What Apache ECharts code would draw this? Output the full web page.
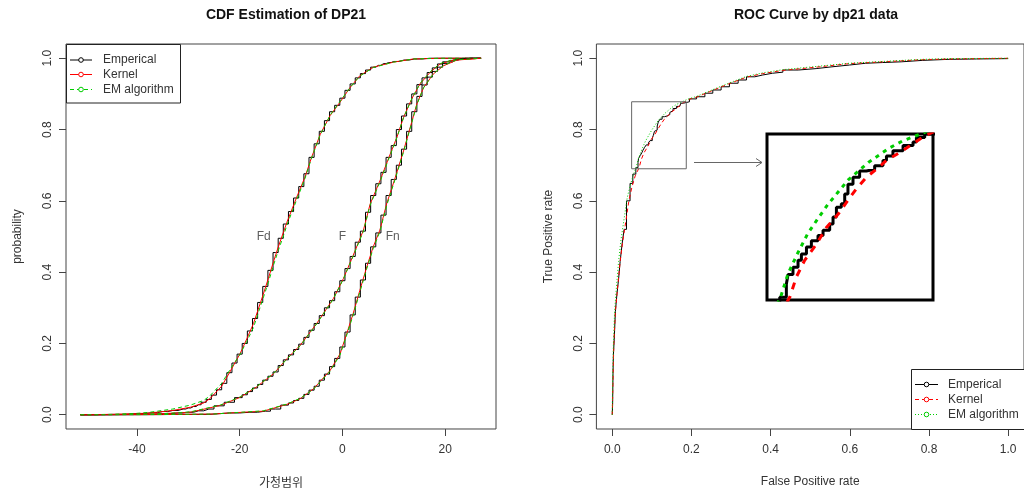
<!DOCTYPE html>
<html>
<head>
<meta charset="utf-8">
<script src="https://cdn.jsdelivr.net/npm/echarts@6/dist/echarts.min.js"></script>
<style>
html,body{margin:0;padding:0;background:#fff;}
#c{width:1024px;height:493px;}
</style>
</head>
<body>
<div id="c"></div>
<script>
// ---------- DATA : left panel (CDF estimation) ----------
const xTicksCdf = [-40, -20, 0, 20];
const yTicks = [0, 0.2, 0.4, 0.6, 0.8, 1.0];

// Fd curve (smooth estimates)
const fdX      = [-51, -45, -40, -37.5, -33, -29.6, -27, -25.8, -23.5, -21.9, -19.9, -18.6, -17.3, -16.4, -15.4, -14.4, -13.4, -12.5, -11.4, -10.8, -8.9, -7.3, -6.0, -4.3, -2.4, -0.45, 1.5, 3.4, 6.0, 9.9, 13.8, 19, 27];
const fdKernel = [0, 0.001, 0.003, 0.005, 0.012, 0.021, 0.033, 0.045, 0.08, 0.12, 0.172, 0.213, 0.256, 0.295, 0.338, 0.383, 0.43, 0.47, 0.515, 0.54, 0.61, 0.666, 0.722, 0.787, 0.839, 0.877, 0.918, 0.951, 0.975, 0.989, 0.998, 1.0, 1.0];
const fdEM     = [0, 0.001, 0.004, 0.007, 0.016, 0.027, 0.04, 0.053, 0.088, 0.126, 0.17, 0.206, 0.245, 0.285, 0.328, 0.372, 0.42, 0.46, 0.505, 0.532, 0.603, 0.662, 0.72, 0.786, 0.84, 0.879, 0.918, 0.95, 0.974, 0.989, 0.998, 1.0, 1.0];
// Fd empirical (jump location, ECDF value)
const fdEmpX = [-51, -45, -40, -37, -35, -33, -31, -30, -29, -28, -27, -26, -25, -24, -23, -22, -21, -20, -19, -18, -17, -16, -15, -14, -13, -12, -11, -10, -9, -8, -7, -6, -5, -4, -3, -2, -1, 0, 1, 2, 3, 4, 5, 6, 7, 8, 9, 10, 12, 14, 17, 27];
const fdEmpY = [0, 0.001, 0.003, 0.006, 0.009, 0.012, 0.016, 0.019, 0.023, 0.028, 0.035, 0.043, 0.055, 0.07, 0.088, 0.118, 0.145, 0.17, 0.2, 0.235, 0.27, 0.315, 0.36, 0.405, 0.455, 0.495, 0.535, 0.57, 0.608, 0.64, 0.676, 0.722, 0.76, 0.795, 0.825, 0.85, 0.868, 0.888, 0.91, 0.928, 0.945, 0.957, 0.967, 0.975, 0.98, 0.985, 0.988, 0.991, 0.995, 0.998, 1.0, 1.0];

// F curve
const fX      = [-51, -40, -35, -29.6, -23.8, -19.9, -16.7, -13.4, -10.8, -8.2, -5.0, -1.75, 0.2, 2.1, 4.1, 5.4, 7.3, 9.3, 10.6, 11.9, 13.5, 15.1, 17.1, 19.0, 21.6, 27];
const fKernel = [0, 0.001, 0.003, 0.007, 0.026, 0.049, 0.078, 0.115, 0.157, 0.195, 0.256, 0.326, 0.382, 0.447, 0.518, 0.591, 0.656, 0.731, 0.778, 0.834, 0.886, 0.928, 0.961, 0.984, 0.995, 1.0];
const fEM     = [0, 0.001, 0.003, 0.008, 0.027, 0.05, 0.079, 0.116, 0.156, 0.194, 0.255, 0.325, 0.381, 0.445, 0.515, 0.588, 0.653, 0.728, 0.777, 0.833, 0.886, 0.929, 0.962, 0.985, 0.996, 1.0];
const fEmpX = [-51, -40, -35, -32, -30, -28, -26, -24, -22, -20, -19, -18, -17, -16, -15, -14, -13, -12, -11, -10, -9, -8, -7, -6, -5, -4, -3, -2, -1, 0, 1, 2, 3, 4, 5, 6, 7, 8, 9, 10, 11, 12, 13, 14, 15, 16, 17, 18, 19, 20, 21, 22, 24, 27];
const fEmpY = [0, 0.001, 0.003, 0.005, 0.007, 0.011, 0.016, 0.025, 0.035, 0.048, 0.056, 0.065, 0.075, 0.085, 0.097, 0.108, 0.12, 0.138, 0.154, 0.168, 0.183, 0.198, 0.217, 0.237, 0.256, 0.278, 0.3, 0.32, 0.345, 0.376, 0.41, 0.444, 0.484, 0.515, 0.568, 0.615, 0.648, 0.68, 0.722, 0.755, 0.8, 0.838, 0.872, 0.9, 0.926, 0.945, 0.96, 0.973, 0.984, 0.99, 0.994, 0.997, 1.0, 1.0];

// Fn curve
const fnX      = [-51, -35, -25, -21.9, -15.4, -10.8, -8.2, -5.6, -2.4, -0.45, 0.86, 2.1, 3.4, 4.75, 6.0, 7.3, 8.6, 10.3, 11.9, 13.2, 14.5, 15.8, 17.7, 19.7, 22.3, 27];
const fnKernel = [0, 0.0005, 0.002, 0.005, 0.01, 0.029, 0.045, 0.073, 0.124, 0.171, 0.228, 0.284, 0.349, 0.415, 0.471, 0.518, 0.591, 0.666, 0.74, 0.806, 0.872, 0.918, 0.956, 0.979, 0.995, 1.0];
const fnEM     = [0, 0.0005, 0.002, 0.005, 0.011, 0.03, 0.046, 0.072, 0.122, 0.168, 0.224, 0.28, 0.344, 0.41, 0.466, 0.514, 0.586, 0.662, 0.737, 0.804, 0.87, 0.917, 0.956, 0.98, 0.996, 1.0];
const fnEmpX = [-51, -30, -22, -18, -15, -13, -11, -10, -9, -8, -7, -6, -5, -4, -3, -2, -1, 0, 1, 2, 3, 4, 5, 6, 7, 8, 9, 10, 11, 12, 13, 14, 15, 16, 17, 18, 19, 20, 21, 22, 23, 25, 27];
const fnEmpY = [0, 0.001, 0.005, 0.007, 0.01, 0.016, 0.027, 0.033, 0.04, 0.046, 0.057, 0.069, 0.08, 0.097, 0.114, 0.135, 0.158, 0.19, 0.232, 0.28, 0.33, 0.378, 0.425, 0.471, 0.51, 0.56, 0.615, 0.66, 0.7, 0.745, 0.795, 0.85, 0.893, 0.925, 0.947, 0.963, 0.975, 0.985, 0.99, 0.995, 0.998, 1.0, 1.0];

// curve name labels
const curveNames = ['Fd', 'F', 'Fn'];
const curveNameX = [-15.3, 0, 9.8];
const curveNameY = [0.5, 0.5, 0.5];

// ---------- DATA : right panel (ROC) ----------
const xTicksRoc = [0, 0.2, 0.4, 0.6, 0.8, 1.0];
const rocEmpFpr = [0, 0.001, 0.002, 0.003, 0.005, 0.008, 0.012, 0.016, 0.02, 0.025, 0.03, 0.036, 0.045, 0.052, 0.0596, 0.0651, 0.0665, 0.0706, 0.0748, 0.0776, 0.0818, 0.0859, 0.0914, 0.0956, 0.1011, 0.1039, 0.1067, 0.1108, 0.1136, 0.1163, 0.1205, 0.126, 0.1316, 0.1385, 0.1454, 0.1483, 0.1537, 0.1621, 0.1704, 0.1732, 0.1801, 0.195, 0.213, 0.234, 0.254, 0.275, 0.296, 0.318, 0.339, 0.36, 0.38, 0.405, 0.431, 0.47, 0.515, 0.555, 0.599, 0.64, 0.683, 0.73, 0.783, 0.851, 0.92, 1.0];
const rocEmpTpr = [0, 0.03, 0.12, 0.17, 0.21, 0.29, 0.34, 0.38, 0.43, 0.48, 0.52, 0.6, 0.649, 0.675, 0.693, 0.708, 0.719, 0.727, 0.735, 0.742, 0.75, 0.757, 0.763, 0.769, 0.776, 0.784, 0.795, 0.799, 0.81, 0.821, 0.829, 0.836, 0.838, 0.842, 0.848, 0.853, 0.859, 0.865, 0.869, 0.874, 0.878, 0.886, 0.892, 0.902, 0.911, 0.92, 0.93, 0.939, 0.948, 0.953, 0.958, 0.961, 0.967, 0.971, 0.976, 0.981, 0.986, 0.988, 0.99, 0.994, 0.997, 0.998, 0.999, 1.0];
const rocKerFpr = [0, 0.002, 0.004, 0.008, 0.013, 0.02, 0.027, 0.034, 0.042, 0.05, 0.058, 0.0679, 0.0734, 0.0803, 0.09, 0.0984, 0.108, 0.1163, 0.1233, 0.1316, 0.1399, 0.1483, 0.1593, 0.1704, 0.1801, 0.195, 0.213, 0.254, 0.296, 0.339, 0.38, 0.431, 0.515, 0.599, 0.683, 0.783, 0.851, 1.0];
const rocKerTpr = [0, 0.1, 0.2, 0.29, 0.35, 0.43, 0.49, 0.54, 0.6, 0.64, 0.67, 0.693, 0.716, 0.735, 0.753, 0.772, 0.787, 0.803, 0.816, 0.829, 0.838, 0.848, 0.857, 0.867, 0.876, 0.885, 0.891, 0.91, 0.929, 0.947, 0.957, 0.966, 0.975, 0.985, 0.99, 0.996, 0.998, 1.0];
const rocEmFpr  = [0, 0.001, 0.003, 0.006, 0.01, 0.016, 0.022, 0.03, 0.038, 0.047, 0.054, 0.0605, 0.0665, 0.0745, 0.0828, 0.0912, 0.0995, 0.108, 0.1165, 0.125, 0.1335, 0.142, 0.1505, 0.1615, 0.1728, 0.19, 0.213, 0.254, 0.296, 0.339, 0.38, 0.431, 0.515, 0.599, 0.683, 0.783, 0.851, 1.0];
const rocEmTpr  = [0, 0.1, 0.2, 0.29, 0.35, 0.43, 0.49, 0.55, 0.61, 0.65, 0.675, 0.694, 0.72, 0.743, 0.765, 0.782, 0.798, 0.812, 0.826, 0.836, 0.846, 0.854, 0.862, 0.87, 0.876, 0.885, 0.893, 0.912, 0.931, 0.949, 0.959, 0.968, 0.977, 0.986, 0.991, 0.997, 0.999, 1.0];
// zoom window shown in the inset
const zoomX = [0.049, 0.187];
const zoomY = [0.69, 0.878];

const legendNames = ['Emperical', 'Kernel', 'EM algorithm'];

// ---------- helpers ----------
const zip = (a, b) => a.map((v, i) => [v, b[i]]);
const FONT = '"Liberation Sans", Arial, sans-serif';
const BLACK = '#000000', RED = '#ff0000', GREEN = '#00cd00';
const TXT = '#333333';

function mkX(gi, min, max, ticks, nameTxt, fmt) {
  return {
    type: 'value', gridIndex: gi, min: min, max: max,
    splitLine: {show: false},
    axisLine: {show: false, onZero: false},
    axisTick: {show: true, length: 7, inside: false, customValues: ticks, lineStyle: {color: '#444'}},
    axisLabel: {customValues: ticks, color: TXT, fontSize: 12, fontFamily: FONT, margin: 15, formatter: fmt},
    name: nameTxt, nameLocation: 'middle', nameGap: 47,
    nameTextStyle: {color: TXT, fontSize: 12, fontFamily: gi === 0 ? '"Noto Sans CJK KR", ' + FONT : FONT}
  };
}
function mkY(gi, nameTxt) {
  return {
    type: 'value', gridIndex: gi, min: -0.04, max: 1.04,
    splitLine: {show: false},
    axisLine: {show: false, onZero: false},
    axisTick: {show: true, length: 7, customValues: yTicks, lineStyle: {color: '#444'}},
    axisLabel: {customValues: yTicks, rotate: 90, color: TXT, fontSize: 12, fontFamily: FONT, margin: 12,
      formatter: v => v.toFixed(1)},
    name: nameTxt, nameLocation: 'middle', nameGap: 42, nameRotate: 90,
    nameTextStyle: {color: TXT, fontSize: 12, fontFamily: FONT}
  };
}

function ln(name, data, xi, color, type, width, step, z) {
  return {
    type: 'line', name: name, xAxisIndex: xi, yAxisIndex: xi, data: data,
    showSymbol: false, symbol: 'none', smooth: false, step: step || false,
    lineStyle: {color: color, width: width || 1, type: type || 'solid'},
    itemStyle: {color: color}, silent: true, z: z || 3
  };
}

const series = [];
// left panel
[[fdX, fdKernel, fdEM, fdEmpX, fdEmpY], [fX, fKernel, fEM, fEmpX, fEmpY], [fnX, fnKernel, fnEM, fnEmpX, fnEmpY]].forEach(g => {
  series.push(ln('Emperical', zip(g[3], g[4]), 0, BLACK, 'solid', 1, 'middle'));
  series.push(ln('Kernel', zip(g[0], g[1]), 0, RED, 'solid', 1));
  series.push(ln('EM algorithm', zip(g[0], g[2]), 0, GREEN, [4, 3], 1));
});
series.push({
  type: 'scatter', xAxisIndex: 0, yAxisIndex: 0, symbolSize: 1, itemStyle: {color: 'rgba(0,0,0,0)'},
  data: curveNames.map((n, i) => ({name: n, value: [curveNameX[i], curveNameY[i]]})),
  label: {show: true, position: 'inside', formatter: p => p.name, color: TXT, fontSize: 12, fontFamily: FONT},
  silent: true, z: 5
});
// right panel main
series.push(ln('Emperical', zip(rocEmpFpr, rocEmpTpr), 1, BLACK, 'solid', 1, 'end'));
series.push(ln('Kernel', zip(rocKerFpr, rocKerTpr), 1, RED, [4, 3], 1));
series.push(ln('EM algorithm', zip(rocEmFpr, rocEmTpr), 1, GREEN, [1, 2], 1));
// zoom rectangle
series.push(ln('zoom', [[zoomX[0], zoomY[0]], [zoomX[1], zoomY[0]], [zoomX[1], zoomY[1]], [zoomX[0], zoomY[1]], [zoomX[0], zoomY[0]]], 1, '#666666', 'solid', 1));
// inset
series.push(ln('Emperical', zip(rocEmpFpr, rocEmpTpr), 2, BLACK, 'solid', 3, 'end', 10));
series.push(ln('Kernel', zip(rocKerFpr, rocKerTpr), 2, RED, [7, 7], 3, false, 10));
series.push(ln('EM algorithm', zip(rocEmFpr, rocEmTpr), 2, GREEN, [4, 5], 3, false, 10));

// ---------- legends (R style boxes) ----------
function legendBox(x, y, w, h, rows, styles) {
  const els = [{type: 'rect', shape: {x: x + 0.5, y: y + 0.5, width: w, height: h}, style: {fill: '#fff', stroke: '#222', lineWidth: 1}, z: 100}];
  rows.forEach((r, i) => {
    const st = styles[i];
    els.push({type: 'line', shape: {x1: r.lx1, y1: r.y, x2: r.lx2, y2: r.y}, style: {stroke: st.c, lineWidth: 1, lineDash: st.d}, z: 101});
    els.push({type: 'circle', shape: {cx: r.cx, cy: r.y, r: 2.3}, style: {fill: '#fff', stroke: st.c, lineWidth: 1}, z: 102});
    els.push({type: 'text', x: r.tx, y: r.y, style: {text: legendNames[i], fill: TXT, font: '12px ' + FONT, textVerticalAlign: 'middle'}, z: 102});
  });
  return els;
}
const graphics = []
  .concat(legendBox(66, 44, 114, 58.5,
    [{lx1: 70, lx2: 92, cx: 81, tx: 103, y: 60}, {lx1: 70, lx2: 92, cx: 81, tx: 103, y: 74.5}, {lx1: 70, lx2: 92, cx: 81, tx: 103, y: 89.5}],
    [{c: BLACK, d: null}, {c: RED, d: null}, {c: GREEN, d: [4, 3]}]))
  .concat(legendBox(911, 369, 120, 60,
    [{lx1: 915, lx2: 938, cx: 926.5, tx: 948, y: 384.5}, {lx1: 915, lx2: 938, cx: 926.5, tx: 948, y: 399.5}, {lx1: 915, lx2: 938, cx: 926.5, tx: 948, y: 414.5}],
    [{c: BLACK, d: null}, {c: RED, d: [4, 3]}, {c: GREEN, d: [1, 2]}]))
  .concat([
    {type: 'line', shape: {x1: 694, y1: 162.5, x2: 762, y2: 162.5}, style: {stroke: '#666', lineWidth: 1}, z: 100},
    {type: 'polyline', shape: {points: [[756, 158.5], [762, 162.5], [756, 166.5]]}, style: {stroke: '#666', lineWidth: 1, fill: null}, z: 100}
  ]);

const option = {
  animation: false,
  backgroundColor: '#ffffff',
  textStyle: {fontFamily: FONT},
  title: [
    {text: 'CDF Estimation of DP21', left: 281, top: 3, textAlign: 'center',
      textStyle: {fontSize: 14, fontWeight: 'bold', color: '#111', fontFamily: FONT}},
    {text: 'ROC Curve by dp21 data', left: 811, top: 3, textAlign: 'center',
      textStyle: {fontSize: 14, fontWeight: 'bold', color: '#111', fontFamily: FONT}}
  ],
  grid: [
    {left: 66, top: 44, width: 430, height: 385, show: true, borderColor: '#444', borderWidth: 1, backgroundColor: 'transparent'},
    {left: 596.4, top: 44, width: 429.2, height: 385, show: true, borderColor: '#444', borderWidth: 1, backgroundColor: 'transparent'},
    {left: 767, top: 134, width: 166, height: 166, show: true, borderColor: '#000', borderWidth: 3, backgroundColor: 'transparent'}
  ],
  xAxis: [
    mkX(0, -53.8, 29.9, xTicksCdf, '가청범위', v => String(v)),
    mkX(1, -0.04, 1.04, xTicksRoc, 'False Positive rate', v => v.toFixed(1)),
    {type: 'value', gridIndex: 2, min: zoomX[0], max: zoomX[1], show: false}
  ],
  yAxis: [
    mkY(0, 'probability'),
    mkY(1, 'True Positive rate'),
    {type: 'value', gridIndex: 2, min: zoomY[0], max: zoomY[1], show: false}
  ],
  series: series,
  graphic: graphics
};

const chart = echarts.init(document.getElementById('c'), null, {renderer: 'canvas'});
chart.setOption(option);
</script>
</body>
</html>
